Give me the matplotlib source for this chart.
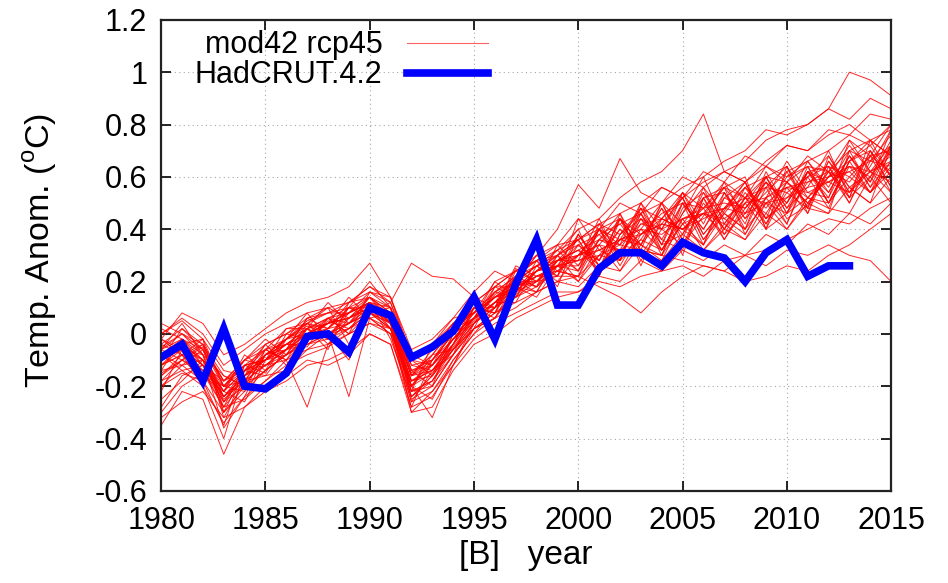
import numpy as np
import matplotlib
matplotlib.use("Agg")
from matplotlib import pyplot as plt

plt.rcParams['font.family'] = ['Liberation Sans', 'DejaVu Sans']
plt.rcParams['mathtext.fontset'] = 'custom'
plt.rcParams['mathtext.rm'] = 'Liberation Sans'

years = np.arange(1980, 2016)

# HadCRUT4.2 annual anomalies 1980-2013
obs_years = np.arange(1980, 2014)
hadcrut = [-0.09, -0.04, -0.18, 0.02, -0.20, -0.21, -0.15, -0.01, 0.00, -0.07,
           0.10, 0.07, -0.09, -0.05, 0.01, 0.14, -0.02, 0.19, 0.36, 0.11,
           0.11, 0.25, 0.31, 0.31, 0.26, 0.35, 0.31, 0.29, 0.20, 0.31,
           0.36, 0.22, 0.26, 0.26]

# 42 model runs (rcp45), in hundredths of a degree, 1980-2015
model_runs = [
    [-10,-4,-12,-25,-18,-8,-2,3,0,6, 14,8,-20,-15,-5,5,15,20,18,28, 32,24,38,46,30,42,52,36,48,58, 44,49,62,52,60,70],
    [-5,0,-8,-30,-20,-14,-8,-3,5,2, 8,2,-22,-18,-4,10,8,22,26,20, 30,40,26,40,50,34,45,56,38,52, 42,60,48,66,54,62],
    [-15,-10,-5,-18,-10,-12,-10,2,-2,8, 12,4,-15,-8,2,6,14,16,24,30, 20,34,44,28,40,52,36,47,58,40, 56,46,64,52,70,60],
    [0,5,-2,-20,-22,-6,-4,-5,6,0, 16,10,-25,-20,-8,4,10,25,20,26, 38,26,36,48,32,46,56,38,46,60, 46,62,52,68,56,72],
    [-20,-15,-18,-35,-12,-15,-2,5,8,10, 6,0,-28,-10,0,12,18,14,28,22, 22,40,30,36,48,30,52,40,56,44, 62,48,66,54,70,56],
    [-8,-12,-6,-26,-16,-4,0,-2,2,12, 18,12,-12,-14,-6,2,6,20,16,30, 40,22,44,34,30,50,34,54,40,56, 64,48,46,70,56,66],
    [-30,-20,-15,-28,-25,-18,-12,-8,-5,0, 4,2,-20,-25,-10,0,10,15,22,24, 30,34,24,38,44,40,48,36,50,40, 46,58,62,50,68,54],
    [2,-2,-12,-22,-10,-2,-8,4,10,-4, 10,6,-16,-6,4,8,16,22,18,34, 26,40,34,50,34,54,38,48,56,60, 46,64,50,66,74,68],
    [-12,-8,-20,-40,-14,-12,-6,0,4,6, 12,-2,-24,-16,-6,4,12,12,26,28, 36,24,46,32,50,36,56,46,40,60, 64,46,68,56,50,72],
    [-6,4,-8,-16,-20,-8,-2,8,-2,10, 20,10,-10,-12,2,10,8,24,20,22, 44,32,28,50,40,54,42,58,44,52, 66,54,52,74,62,58],
    [-25,-18,-10,-24,-18,-16,-14,-6,0,-10, 8,4,-30,-22,-12,2,6,18,14,26, 20,30,40,30,28,44,32,40,36,50, 40,52,48,46,60,50],
    [-2,-6,-14,-20,-12,-10,-4,2,12,4, 14,8,-14,-10,0,6,20,14,24,32, 24,42,30,44,32,46,60,42,54,44, 50,66,54,68,58,78],
    [-10,2,-4,-32,-18,-6,-10,-2,4,14, 6,0,-18,-16,-4,12,10,22,28,18, 38,28,44,34,50,42,46,56,60,40, 64,52,60,72,62,54],
    [-18,-10,-16,-22,-8,-14,0,4,-4,2, 10,6,-22,-4,6,8,14,18,20,28, 28,44,28,48,36,32,52,54,42,62, 48,56,70,52,74,60],
    [-4,-8,-2,-14,-16,-12,-6,6,8,8, 16,14,-8,-12,-2,4,16,20,30,24, 22,36,46,26,44,52,36,46,56,48, 60,64,50,64,54,70],
    [-14,-2,-10,-36,-24,-8,-4,-4,0,4, 12,2,-26,-14,-8,10,6,16,24,30, 36,22,38,44,40,34,50,40,52,56, 42,62,64,50,66,76],
    [-8,-14,-12,-18,-14,-4,-12,0,6,0, 8,10,-14,-20,0,6,12,22,18,26, 24,36,42,32,30,48,54,44,38,52, 58,50,60,66,70,56],
    [-22,-6,-8,-28,-12,-10,2,2,-6,12, 14,4,-20,-8,-6,2,18,18,22,22, 38,26,30,42,44,40,34,52,58,42, 54,48,66,56,62,72],
    [-35,-22,-25,-46,-28,-20,-16,-10,-12,-8, 0,-4,-30,-28,-14,-4,0,6,10,14, 16,20,18,22,24,26,22,28,30,26, 32,30,34,30,28,20],
    [-2,8,4,-8,-4,2,8,12,14,18, 27,14,-6,-2,6,16,24,20,30,34, 36,40,44,38,46,50,48,56,52,60, 58,64,62,70,66,72],
    [-8,-2,-6,-24,-16,-10,-6,0,4,8, 12,6,-18,-12,-2,8,14,20,26,32, 40,44,52,58,62,70,84,62,58,66, 72,70,76,80,74,78],
    [-12,-6,-10,-22,-14,-8,-2,4,2,10, 10,8,-16,-10,0,6,16,22,28,30, 36,42,46,50,56,52,58,62,66,74, 78,80,86,100,97,91],
    [-6,0,-4,-18,-10,-6,-2,2,6,4, 8,12,27,22,21,14,10,20,24,28, 30,34,32,38,42,40,44,48,46,50, 52,56,58,54,62,66],
    [-16,-10,-14,-26,-14,-6,-10,-28,-4,6, 10,4,-18,-14,-4,6,12,18,22,26, 30,32,36,40,38,44,46,44,50,52, 56,54,58,62,66,64],
    [-4,2,-6,-20,-12,-10,-2,4,0,-24, 6,8,-12,-10,2,8,14,18,24,28, 32,36,34,42,40,44,48,50,48,56, 54,60,64,60,68,70],
    [-10,-6,-12,-24,-16,-8,-4,0,4,8, 12,4,-20,-32,-12,4,10,16,20,26, 28,32,36,38,42,40,46,48,52,50, 56,58,60,64,62,68],
    [-8,-4,-10,-20,-14,-10,-6,2,4,6, 10,6,-16,-12,-2,6,18,24,30,40, 57,48,67,54,50,60,56,62,58,64, 60,66,70,76,72,80],
    [-12,-8,-14,-28,-18,-12,-8,-2,0,2, 6,2,-24,-18,-8,2,8,12,16,20, 22,18,14,8,16,22,26,24,30,32, 36,40,44,42,48,52],
    [-6,-2,-8,-22,-14,-10,-4,2,6,8, 12,8,-14,-12,-2,6,12,18,22,26, 28,30,34,32,30,28,26,24,20,22, 26,24,30,34,40,46],
    [-10,-4,-10,-24,-16,-10,-4,0,4,6, 10,6,-18,-14,-4,6,14,20,26,30, 34,38,42,46,50,56,60,66,70,78, 76,80,86,82,90,86],
    [-14,-12,-18,-30,-22,-14,-8,-4,-2,2, 8,2,-22,-20,-8,2,8,14,18,24, 22,30,28,36,32,42,34,46,40,50, 46,52,50,60,54,64],
    [0,6,0,-12,-6,0,4,8,10,12, 16,12,-8,-4,4,12,18,24,28,32, 36,42,38,48,44,54,48,58,52,64, 58,68,62,74,68,80],
    [-18,-14,-20,-34,-24,-18,-10,-6,-4,0, 4,0,-26,-22,-10,0,6,10,16,20, 18,26,24,34,28,38,32,42,36,46, 40,50,46,56,50,60],
    [-6,-10,-4,-16,-20,-8,-6,6,2,10, 14,10,-10,-16,0,10,10,26,22,24, 30,38,30,44,36,50,40,54,44,58, 50,62,54,68,58,72],
    [-28,-16,-12,-26,-20,-14,-8,-2,2,4, 8,4,-22,-18,-6,4,12,16,24,26, 34,26,36,40,32,44,46,38,52,42, 58,50,60,62,54,66],
    [-2,-8,-16,-20,-10,-4,0,6,10,6, 12,10,-16,-8,2,8,16,14,20,30, 24,40,36,34,48,38,52,56,46,54, 62,66,56,70,74,68],
    [-12,-4,-2,-30,-14,-16,-6,-2,6,10, 8,6,-20,-12,-4,10,8,20,26,22, 34,28,44,30,42,52,38,48,58,44, 52,60,68,54,64,78],
    [-20,-12,-10,-22,-26,-10,-8,2,-2,4, 10,4,-24,-16,-6,6,10,18,16,28, 30,40,28,46,34,38,54,40,50,60, 48,62,50,66,72,60],
    [4,0,-6,-18,-12,-6,2,4,8,12, 18,14,-10,-6,4,8,20,24,28,34, 44,40,50,46,56,52,62,58,68,64, 72,70,78,76,84,82],
    [-32,-26,-22,-32,-28,-22,-18,-12,-10,-6, 0,-4,-28,-24,-12,-2,4,8,12,16, 16,22,20,28,24,32,28,34,30,38, 34,42,38,46,42,50],
    [-8,-6,-12,-24,-14,-10,-2,0,2,8, 14,6,-16,-14,-2,6,12,20,20,28, 32,28,40,34,44,40,46,42,52,46, 58,52,62,58,68,62],
    [-16,-8,-4,-20,-18,-12,-6,-4,0,4, 10,2,-20,-10,-2,8,14,16,24,26, 26,36,32,46,34,50,40,52,48,58, 50,62,58,64,60,74],
]

x_ticks = list(range(1980, 2016, 5))
y_ticks = [-0.6, -0.4, -0.2, 0, 0.2, 0.4, 0.6, 0.8, 1, 1.2]
y_ticklabels = ['-0.6', '-0.4', '-0.2', '0', '0.2', '0.4', '0.6', '0.8', '1', '1.2']

fs = 22

fig = plt.figure(figsize=(9.48, 5.83), dpi=100)
ax = fig.add_axes([0.170, 0.158, 0.770, 0.808])

for i, run in enumerate(model_runs):
    ax.plot(years, np.array(run) / 100.0, color='#ff0000', lw=0.7, alpha=0.85,
            label='mod42 rcp45' if i == 0 else None, zorder=2)
ax.plot(obs_years, hadcrut, color='#0000ff', lw=5.5, label='HadCRUT.4.2',
        solid_joinstyle='miter', zorder=3)

ax.set_xlim(1980, 2015)
ax.set_ylim(-0.6, 1.2)
ax.set_xticks(x_ticks)
ax.set_yticks(y_ticks)
ax.set_yticklabels(y_ticklabels)
ax.grid(True, color='#a8a8a8', linestyle=(0, (1, 3)), lw=0.8)
ax.tick_params(direction='in', length=7, width=1.2, top=True, right=True,
               labelsize=fs)
ax.tick_params(axis='x', pad=11)
ax.tick_params(axis='y', pad=10)
for s in ax.spines.values():
    s.set_linewidth(1.6)
    s.set_color('#222222')

ax.set_xlabel('[B]   year', fontsize=24)
ax.xaxis.set_label_coords(0.5, -0.105, transform=ax.transAxes)
ax.set_ylabel(r'Temp. Anom. ($^{\mathrm{o}}$C)', fontsize=24.5)
ax.yaxis.set_label_coords(-0.140, 0.51, transform=ax.transAxes)

leg = ax.legend(loc='upper right', bbox_to_anchor=(503 / 948, 1 - 15 / 583),
                bbox_transform=fig.transFigure, frameon=False, markerfirst=False,
                fontsize=fs, handlelength=2.65, handletextpad=0.8,
                labelspacing=0.0, borderpad=0)
handles = leg.legend_handles
handles[0].set_color('#ff6060')
handles[0].set_linewidth(0.8)
handles[0].set_alpha(1)
handles[1].set_color('#0000ff')
handles[1].set_alpha(1)

fig.savefig('out.png', dpi=100)
